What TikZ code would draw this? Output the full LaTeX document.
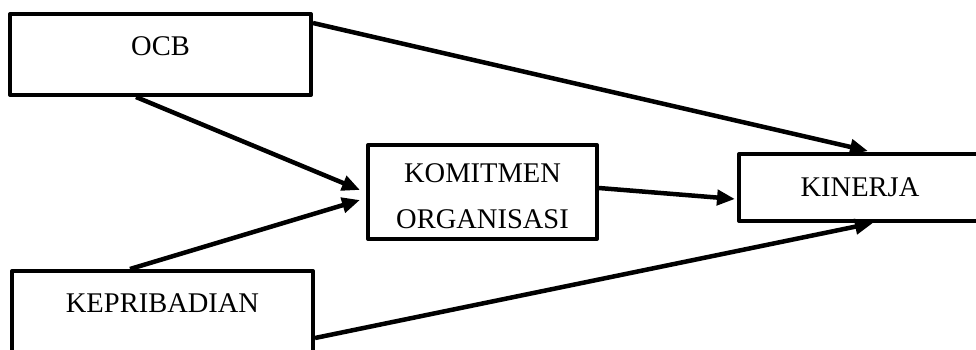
\documentclass[tikz,border=0pt]{standalone}
\usepackage{fontspec}
\setmainfont{Liberation Serif}
\usetikzlibrary{arrows.meta,calc}
\tikzset{
  kotak/.style={draw, line width=4pt, line join=round, inner sep=0pt,
    font=\fontsize{28.5}{46}\selectfont},
  panah/.style={line width=4.5pt, -{Triangle[length=18pt,width=15pt]}},
}
\begin{document}
\begin{tikzpicture}[x=1pt,y=-1pt]
\useasboundingbox (0,0) rectangle (976,349);
\clip (0,0) rectangle (976,349);
% kotak variabel
\node[kotak, minimum width=301pt, minimum height=81pt, text height=19pt, text depth=18pt] (ocb) at (160.5,54.5) {OCB};
\node[kotak, minimum width=301pt, minimum height=81pt, text height=19pt, text depth=18pt] (kepri) at (162.5,311.5) {KEPRIBADIAN};
\node[kotak, minimum width=229pt, minimum height=94pt, align=center, text height=74pt] (komit) at (482.5,192) {KOMITMEN\\ORGANISASI};
\node[kotak, minimum width=242pt, minimum height=67pt] (kinerja) at (860,187.5) {KINERJA};
% panah hubungan
\draw[panah] ($(ocb.north east)+(0,11)$) -- ($(kinerja.north west)+(131,-1)$);
\draw[panah] ($(ocb.south west)+(128,0)$) -- ($(komit.west)+(-6,-2)$);
\draw[panah] ($(kepri.north west)+(120,0)$) -- ($(komit.west)+(-6,8)$);
\draw[panah] ($(komit.east)+(0,-4)$) -- ($(kinerja.west)+(-2,11.5)$);
\draw[panah] ($(kepri.north east)+(0,69)$) -- ($(kinerja.south west)+(136,0)$);
\end{tikzpicture}
\end{document}
